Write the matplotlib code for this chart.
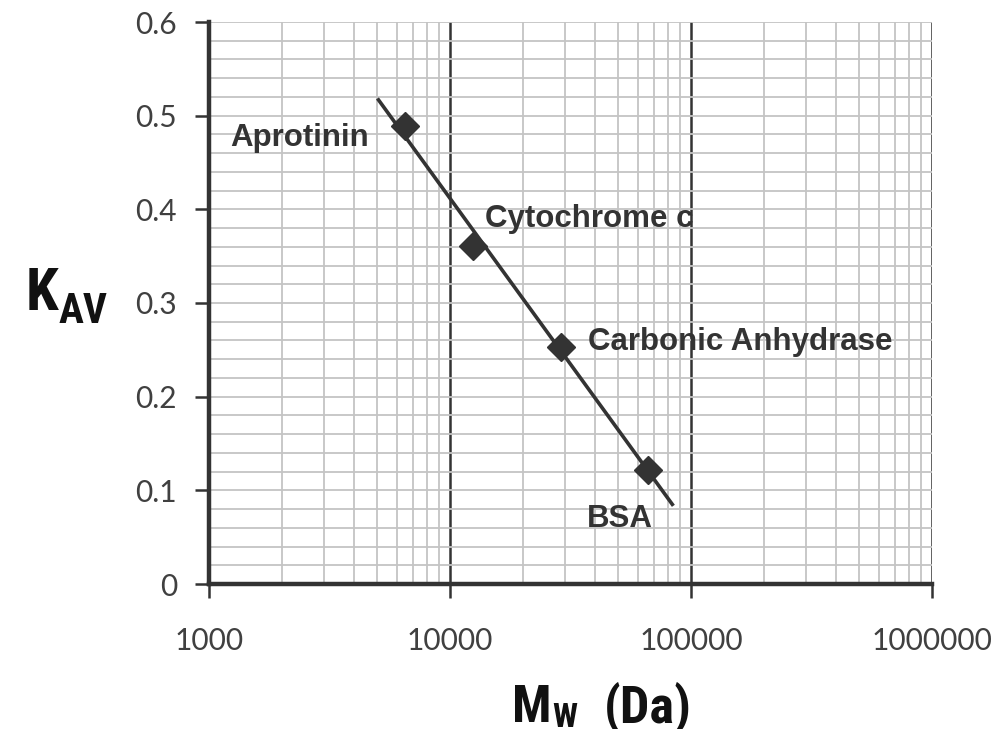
import numpy as np
import matplotlib
matplotlib.use("Agg")
import matplotlib.pyplot as plt
from matplotlib.ticker import LogLocator, MultipleLocator, FixedLocator, NullFormatter

# Data
proteins = ["Aprotinin", "Cytochrome c", "Carbonic Anhydrase", "BSA"]
mw = [6500, 12400, 29000, 66500]
kav = [0.489, 0.361, 0.253, 0.122]
label_x = [1222, 13940, 37250, 37000]
label_y = [0.4676, 0.381, 0.2498, 0.0609]
trend_range = [5000, 84500]
xticks = [1000, 10000, 100000, 1000000]
xticklabels = ["1000", "10000", "100000", "1000000"]
yticks = [0, 0.1, 0.2, 0.3, 0.4, 0.5, 0.6]
yticklabels = ["0", "0.1", "0.2", "0.3", "0.4", "0.5", "0.6"]

DARK = "#333333"
GRID = "#c4c4c4"
W, H = 1001, 729

fig = plt.figure(figsize=(W/100, H/100), dpi=100)
ax = fig.add_axes([209/W, 1-584/H, (932-209)/W, (584-22)/H])

ax.set_xscale("log")
ax.set_xlim(1000, 1000000)
ax.set_ylim(0, 0.6)

# grid
ax.xaxis.set_major_locator(FixedLocator(xticks))
ax.xaxis.set_minor_locator(LogLocator(base=10, subs=np.arange(2, 10)))
ax.xaxis.set_minor_formatter(NullFormatter())
ax.yaxis.set_major_locator(FixedLocator(yticks))
ax.yaxis.set_minor_locator(MultipleLocator(0.02))
ax.grid(True, which="minor", axis="x", color=GRID, lw=1.3, zorder=0)
ax.grid(True, which="both", axis="y", color=GRID, lw=1.3, zorder=0)
ax.grid(True, which="major", axis="x", color=DARK, lw=1.8, zorder=1)
ax.set_axisbelow(True)

for s in ["top", "right"]:
    ax.spines[s].set_visible(False)
for s in ["left", "bottom"]:
    ax.spines[s].set_linewidth(3.2)
    ax.spines[s].set_color(DARK)
    ax.spines[s].set_zorder(3)

ax.set_xticklabels(xticklabels)
ax.set_yticklabels(yticklabels)
ax.tick_params(which="major", length=10, width=1.8, color=DARK, direction="out",
               labelsize=21.5, labelcolor="#404040")
ax.tick_params(which="minor", length=0)
ax.tick_params(axis="x", pad=21)
ax.tick_params(axis="y", pad=13)
for lab in ax.get_xticklabels() + ax.get_yticklabels():
    lab.set_fontfamily(["Lato", "DejaVu Sans"])

# trend line fit
coef = np.polyfit(np.log10(mw), kav, 1)
tx = np.array(trend_range, dtype=float)
ax.plot(tx, np.polyval(coef, np.log10(tx)), color=DARK, lw=2.6, zorder=4,
        solid_capstyle="butt")
ax.plot(mw, kav, linestyle="none", marker="D", markersize=14.5, color=DARK, zorder=5)

for name, lx, ly in zip(proteins, label_x, label_y):
    ax.text(lx, ly, name, ha="left", va="baseline", fontsize=22.5, fontweight="bold",
            color=DARK, family=["Liberation Sans", "DejaVu Sans"], zorder=6)

# axis titles (condensed bold)
cond = dict(family=["Roboto Condensed", "DejaVu Sans"], fontstretch="condensed",
            fontweight="bold", color="#111111", ha="left", va="baseline")
renderer = fig.canvas.get_renderer()


def place(parts):
    """parts: list of (text, size, baseline_px, gap_before_px); first gap is x."""
    x = 0
    for txt, size, base, extra in parts:
        x = x + extra
        t = fig.text(x/W, 1-base/H, txt, fontsize=size, **cond)
        bb = t.get_window_extent(renderer)
        x = bb.x1


place([("K", 42.5, 310, 26), ("AV", 30, 323, 0)])
place([("M", 37.5, 722, 512), ("W", 24, 727, 1), ("(Da)", 37.5, 722, 26)])

fig.savefig("out.png", dpi=100)
